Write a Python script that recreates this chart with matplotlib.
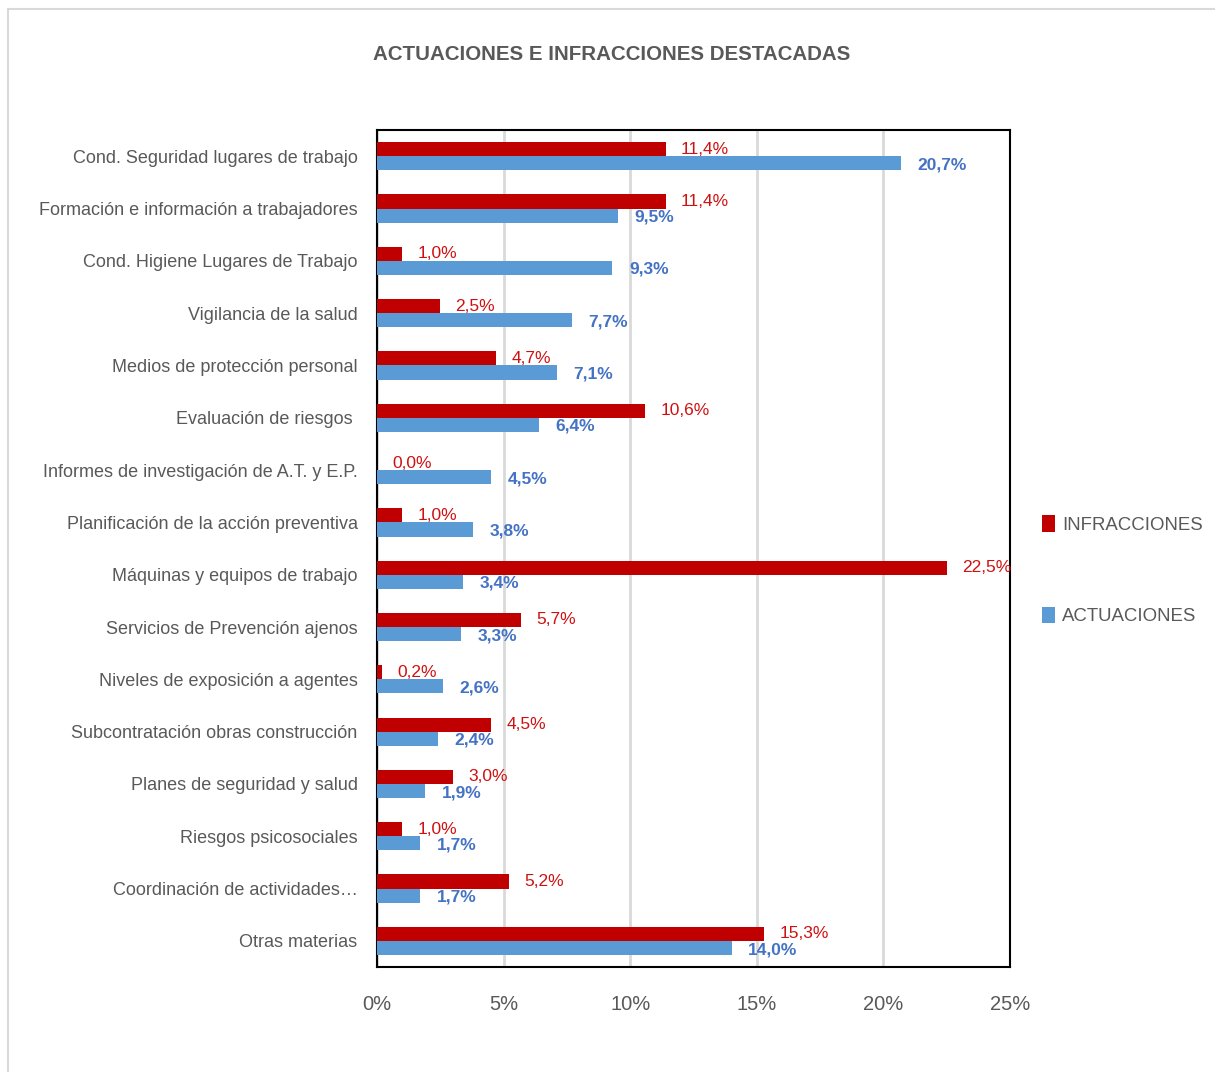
import matplotlib
matplotlib.use("Agg")
import matplotlib.pyplot as plt
from matplotlib.patches import Rectangle
import numpy as np

plt.rcParams['font.family'] = ['Liberation Sans', 'DejaVu Sans']

categorias = [
    "Cond. Seguridad lugares de trabajo",
    "Formación e información a trabajadores",
    "Cond. Higiene Lugares de Trabajo",
    "Vigilancia de la salud",
    "Medios de protección personal",
    "Evaluación de riesgos ",
    "Informes de investigación de A.T. y E.P.",
    "Planificación de la acción preventiva",
    "Máquinas y equipos de trabajo",
    "Servicios de Prevención ajenos",
    "Niveles de exposición a agentes",
    "Subcontratación obras construcción",
    "Planes de seguridad y salud",
    "Riesgos psicosociales",
    "Coordinación de actividades…",
    "Otras materias",
]
infracciones = [11.4, 11.4, 1.0, 2.5, 4.7, 10.6, 0.0, 1.0, 22.5, 5.7, 0.2, 4.5, 3.0, 1.0, 5.2, 15.3]
actuaciones = [20.7, 9.5, 9.3, 7.7, 7.1, 6.4, 4.5, 3.8, 3.4, 3.3, 2.6, 2.4, 1.9, 1.7, 1.7, 14.0]
xticks = [0, 5, 10, 15, 20, 25]

ROJO = "#C00000"
AZUL = "#5B9BD5"
GRIS = "#595959"

fig = plt.figure(figsize=(12.15, 10.72), dpi=100)
ax = fig.add_axes([0.3103, 0.0979, 0.5210, 0.7808])

# marco exterior del grafico
fig.patches.append(Rectangle((8 / 1215, -0.1), 1.2, 1 - 9 / 1072 + 0.1,
                             transform=fig.transFigure, fill=False,
                             edgecolor="#D9D9D9", linewidth=1.5))

y = np.arange(len(categorias))
h = 0.27
ax.barh(y - h / 2, infracciones, height=h, color=ROJO, label="INFRACCIONES", zorder=3)
ax.barh(y + h / 2, actuaciones, height=h, color=AZUL, label="ACTUACIONES", zorder=3)

for yi, v in zip(y, infracciones):
    ax.annotate(f"{v:.1f}%".replace(".", ","), (v, yi - h / 2), xytext=(11, 0),
                textcoords="offset points", va="center", ha="left",
                color="#D01010", fontsize=12.5, zorder=4)
for yi, v in zip(y, actuaciones):
    ax.annotate(f"{v:.1f}%".replace(".", ","), (v, yi + h / 2 + 0.03), xytext=(12, 0),
                textcoords="offset points", va="center", ha="left",
                color="#4472C4", fontsize=12.5, fontweight="bold", zorder=4)

ax.set_xlim(0, 25)
ax.set_ylim(len(categorias) - 0.5, -0.5)
ax.set_yticks(y)
ax.set_yticklabels(categorias, fontsize=13, color=GRIS)
ax.set_xticks(xticks)
ax.set_xticklabels([f"{t}%" for t in xticks], fontsize=14.5, color=GRIS)
ax.tick_params(axis="y", length=0, pad=14)
ax.tick_params(axis="x", length=0, pad=20)
ax.grid(axis="x", color="#D9D9D9", linewidth=2, zorder=0)
for s in ax.spines.values():
    s.set_color("black")
    s.set_linewidth(1.5)

ax.legend(loc="center left", bbox_to_anchor=(1.024, 0.474), frameon=False,
          fontsize=13.4, handlelength=0.72, handleheight=1.0, handletextpad=0.35,
          labelspacing=3.9, labelcolor=GRIS)

fig.text(0.503, 0.949, "ACTUACIONES E INFRACCIONES DESTACADAS", ha="center",
         va="center", fontsize=14.8, color=GRIS, fontweight="bold")

fig.savefig("out.png", dpi=100)
